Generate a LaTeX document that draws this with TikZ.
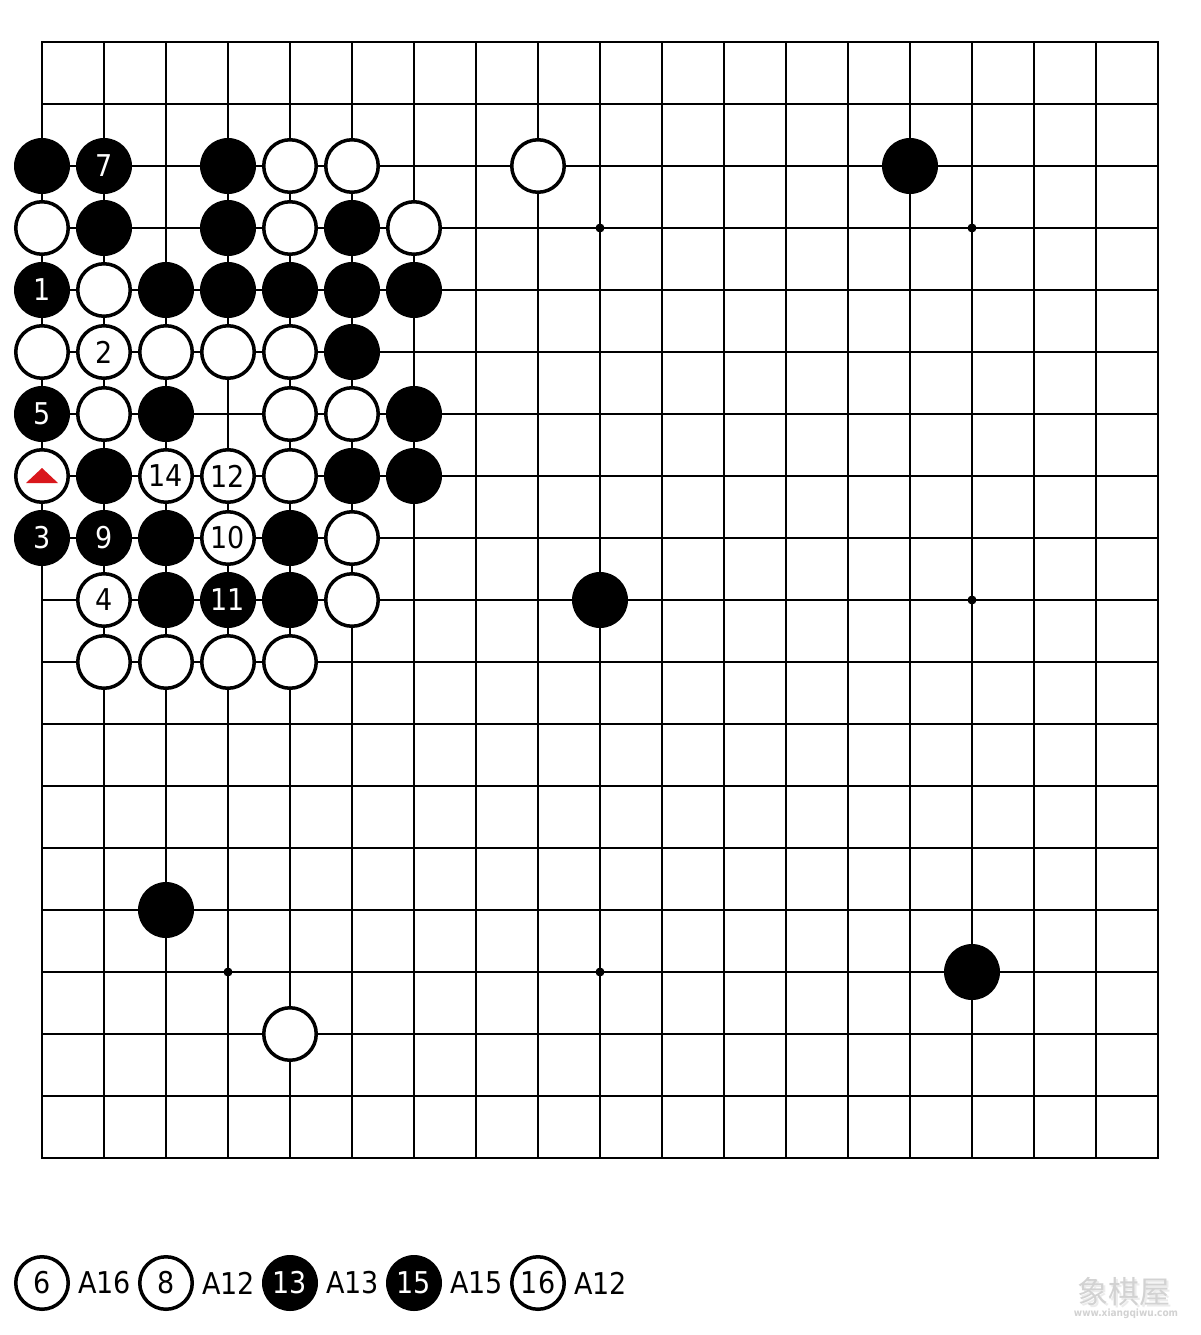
\documentclass[tikz,border=0pt]{standalone}
\usepackage{fontspec}
\setmainfont{DejaVu Sans}[FakeStretch=0.9]
\newfontfamily\cjk{Noto Sans CJK SC}
\definecolor{tri}{HTML}{D9171C}
\begin{document}
\begin{tikzpicture}[x=1pt,y=-1pt,
  num/.style={font=\fontsize{30}{30}\selectfont},
  bst/.style={circle,fill=black,inner sep=0pt,minimum size=56pt,text=white,num},
  wst/.style={circle,draw=black,line width=3.5pt,fill=white,inner sep=0pt,minimum size=52.5pt,text=black,num},
  gridline/.style={line width=1.1pt},
  border/.style={line width=2.2pt},
  star/.style={circle,fill=black,inner sep=0pt,minimum size=9pt},
  lbl/.style={anchor=west,inner sep=0pt,num},
  wm/.style={text=gray!35},
  wmshadow/.style={text=gray!15}]
\useasboundingbox (0,0) rectangle (1200,1335);
\fill[white] (0,0) rectangle (1200,1335);
% grid
\foreach \i in {1,...,17} {
  \draw[gridline] (42+62*\i,42) -- (42+62*\i,1158);
  \draw[gridline] (42,42+62*\i) -- (1158,42+62*\i);
}
\draw[border] (42,42) rectangle (1158,1158);
% star points
\foreach \c/\r [count=\k] in {3/3,9/3,15/3,3/9,9/9,15/9,3/15,9/15,15/15}
  \node[star] (h\k) at (42+62*\c,42+62*\r) {};
% black stones
\foreach \c/\r/\t in {0/2/{},1/2/7,3/2/{},14/2/{},
  1/3/{},3/3/{},5/3/{},
  0/4/1,2/4/{},3/4/{},4/4/{},5/4/{},6/4/{},
  5/5/{},
  0/6/5,2/6/{},6/6/{},
  1/7/{},5/7/{},6/7/{},
  0/8/3,1/8/9,2/8/{},4/8/{},
  2/9/{},3/9/11,4/9/{},9/9/{},
  2/14/{},15/15/{}}
  \node[bst] (b\c-\r) at (42+62*\c,42+62*\r) {\t};
% white stones
\foreach \c/\r/\t in {4/2/{},5/2/{},8/2/{},
  0/3/{},4/3/{},6/3/{},
  1/4/{},
  0/5/{},1/5/2,2/5/{},3/5/{},4/5/{},
  1/6/{},4/6/{},5/6/{},
  0/7/{},2/7/14,3/7/12,4/7/{},
  3/8/10,5/8/{},
  1/9/4,5/9/{},
  1/10/{},2/10/{},3/10/{},4/10/{},
  4/16/{}}
  \node[wst] (w\c-\r) at (42+62*\c,42+62*\r) {\t};
% red triangle mark
\fill[tri] (42,468) -- (58,483) -- (26,483) -- cycle;
% legend
\node[wst] (l6) at (42,1283) {6};
\node[lbl] (t6) at (78,1283) {A16};
\node[wst] (l8) at (166,1283) {8};
\node[lbl] (t8) at (202,1283) {A12};
\node[bst] (l13) at (290,1283) {13};
\node[lbl] (t13) at (326,1283) {A13};
\node[bst] (l15) at (414,1283) {15};
\node[lbl] (t15) at (450,1283) {A15};
\node[wst] (l16) at (538,1283) {16};
\node[lbl] (t16) at (574,1283) {A12};
% watermark
\node[wmshadow,font=\cjk\fontsize{31}{31}\selectfont] (wms) at (1126,1294) {象棋屋};
\node[wm,font=\cjk\fontsize{31}{31}\selectfont] (wmt) at (1124,1292) {象棋屋};
\node[wm,font=\bfseries\fontsize{10}{10}\selectfont] (wmu) at (1126,1314) {www.xiangqiwu.com};
\end{tikzpicture}
\end{document}
